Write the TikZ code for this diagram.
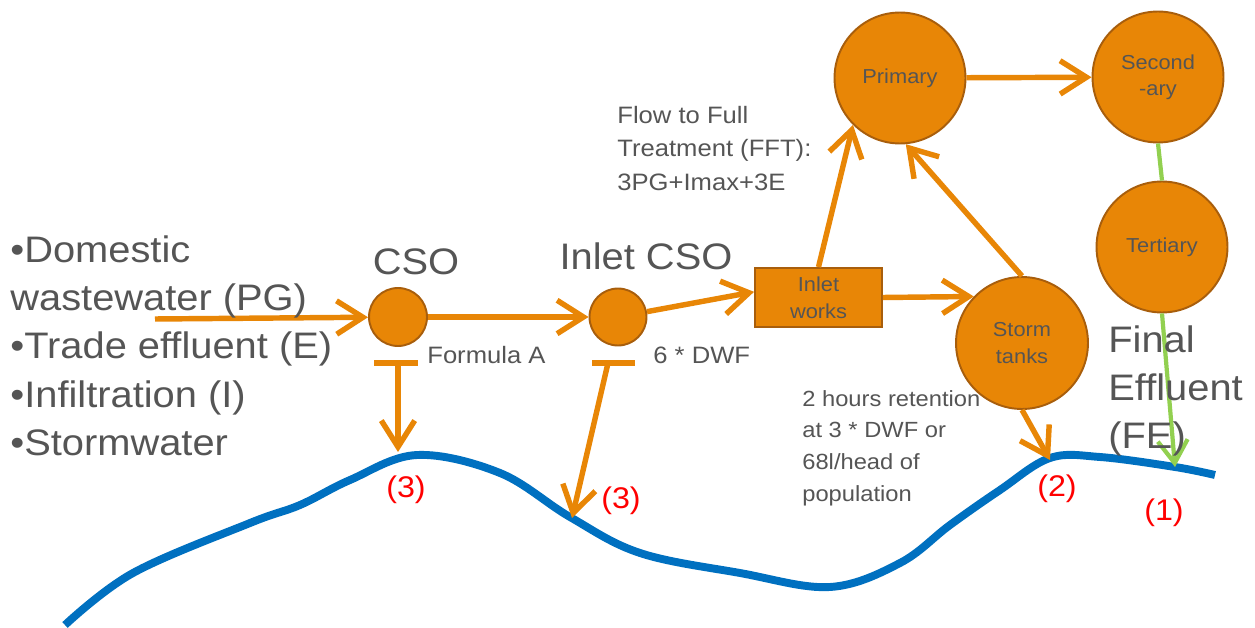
\documentclass[tikz,border=0pt]{standalone}
\usepackage{xcolor}
\usepackage{fontspec}
\setmainfont{Liberation Sans}[FakeStretch=1.08]
\usepackage{tikz}
\usetikzlibrary{arrows.meta,calc}
\definecolor{sewage}{RGB}{232,134,6}
\definecolor{sewagerim}{RGB}{168,94,12}
\definecolor{ink}{RGB}{85,85,85}
\definecolor{riverblue}{RGB}{0,112,192}
\definecolor{cleangreen}{RGB}{146,208,80}

\begin{document}
\begin{tikzpicture}[x=0.02cm,y=-0.02cm,
  tank/.style={circle,fill=sewage,draw=sewagerim,line width=1.1pt,text=ink,inner sep=0pt,align=center,font=\fontsize{11.5}{15}\selectfont},
  flow/.style={draw=sewage,line width=3.1pt,-{Straight Barb[length=15pt,width=19pt]}},
  clean/.style={draw=cleangreen,line width=2.4pt},
  big/.style={text=ink,inner sep=0pt,align=left,font=\fontsize{21}{27.5}\selectfont},
  note/.style={text=ink,inner sep=0pt,align=left,font=\fontsize{13.5}{19}\selectfont},
  tag/.style={text=red,inner sep=0pt,font=\fontsize{17}{20}\selectfont}]
\useasboundingbox (0,0) rectangle (1255,628);
% the river
\draw[riverblue,line width=4.5pt] plot[smooth,tension=0.6] coordinates {(65,625) (133,573) (250,523) (300,505) (350,480) (417,455) (500,473) (570,517) (640,553) (740,573) (830,587) (900,563) (950,525) (1000,490) (1050,458) (1100,457) (1175,467) (1215,475)};
% works
\node[tank,minimum size=1.16cm] (cso) at (398,317) {};
\node[tank,minimum size=1.14cm] (inletcso) at (618,317) {};
\node[fill=sewage,draw=sewagerim,line width=1.1pt,text=ink,align=center,inner sep=0pt,minimum width=2.54cm,minimum height=1.18cm,font=\fontsize{11.5}{15.5}\selectfont] (works) at (818.5,297.5) {Inlet\\works};
\node[tank,minimum size=2.62cm] (primary) at (900,78) {Primary};
\node[tank,minimum size=2.62cm] (secondary) at (1158,77) {Second\\-ary};
\node[tank,minimum size=2.62cm] (tertiary) at (1162,247) {Tertiary};
\node[tank,minimum size=2.64cm] (storm) at (1022,343) {Storm\\tanks};
% free ends
\coordinate (src) at (155,319);
\coordinate (bar3a) at (398,363);
\coordinate (bar3b) at (608,363);
\coordinate (out3a) at (398,452);
\coordinate (out3b) at (572,518);
\coordinate (out2) at (1050,460);
\coordinate (out1) at (1175,467);
% flows
\draw[flow] (src) -- (cso);
\draw[flow] (cso) -- (inletcso);
\draw[flow] (inletcso) -- (works.175);
\draw[flow] (works.north) -- (primary.225);
\draw[flow] (works.east) -- (storm.136);
\draw[flow] (storm.north) -- (primary.275);
\draw[flow] (primary) -- (secondary);
\draw[flow] (storm.south) -- (out2);
\draw[flow] (bar3a) -- (out3a);
\draw[flow] (bar3b) -- (out3b);
\draw[flow,-] ($(bar3a)+(-24,0)$) -- ($(bar3a)+(20,0)$);
\draw[flow,-] ($(bar3b)+(-16,0)$) -- ($(bar3b)+(27,0)$);
\draw[clean] (secondary.south) -- (tertiary.north);
\draw[clean,-{Straight Barb[length=13pt,width=17pt]}] (tertiary.south) -- (out1);
% texts
\node[big,anchor=north west] (sources) at (10,235) {•Domestic\\wastewater (PG)\\•Trade effluent (E)\\•Infiltration (I)\\•Stormwater};
\node[big,anchor=base] (csolabel) at (416,275) {CSO};
\node[big,anchor=base] (inletlabel) at (646,270) {Inlet CSO};
\node[note,anchor=base west] (formula) at (427,363) {Formula A};
\node[note,anchor=base west] (dwf) at (653,363) {6 * DWF};
\node[note,anchor=north west] (fft) at (617,106) {Flow to Full\\Treatment (FFT):\\3PG+Imax+3E};
\node[note,anchor=north west,font=\fontsize{12.5}{18}\selectfont] (retention) at (802,390) {2 hours retention\\at 3 * DWF or\\68l/head of\\population};
\node[big,anchor=north west] (fe) at (1108,325) {Final\\Effluent\\(FE)};
\node[tag] (tag3a) at (406,490) {(3)};
\node[tag] (tag3b) at (621,501) {(3)};
\node[tag] (tag2) at (1057,489) {(2)};
\node[tag] (tag1) at (1164,513) {(1)};
\end{tikzpicture}
\end{document}
